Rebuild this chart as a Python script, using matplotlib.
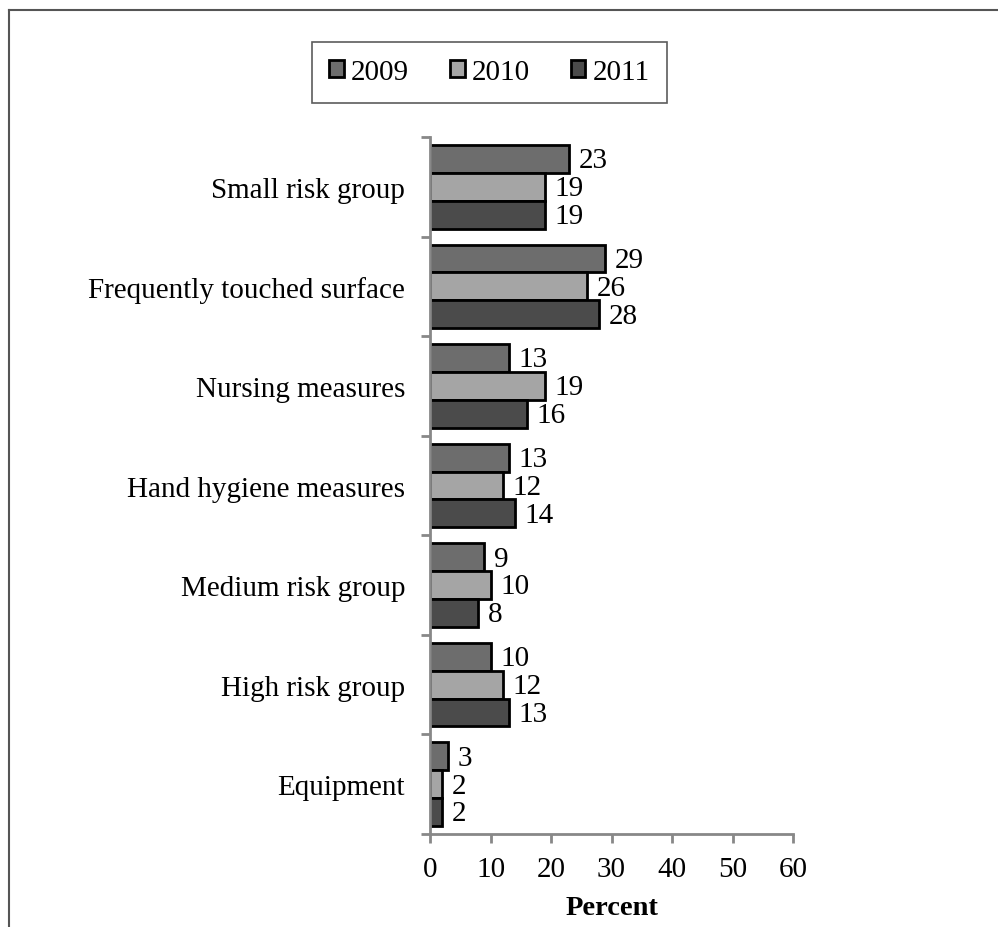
import matplotlib.pyplot as plt
import numpy as np
from matplotlib.lines import Line2D

plt.rcParams["font.family"] = ["Liberation Serif", "DejaVu Serif"]

categories = ["Small risk group", "Frequently touched surface", "Nursing measures",
              "Hand hygiene measures", "Medium risk group", "High risk group", "Equipment"]
years = ["2009", "2010", "2011"]
v2009 = [23, 29, 13, 13, 9, 10, 3]
v2010 = [19, 26, 19, 12, 10, 12, 2]
v2011 = [19, 28, 16, 14, 8, 13, 2]
colors = ["#6d6d6d", "#a5a5a5", "#4b4b4b"]
xticks = [0, 10, 20, 30, 40, 50, 60]

fig = plt.figure(figsize=(9.98, 9.28), dpi=100)
ax = fig.add_axes([0.4309, 0.1002, 0.3637, 0.7511])

n = len(categories)
centers = np.arange(n)[::-1].astype(float)
h = 0.28
offsets = [h, 0.0, -h]
for vals, off, col, yr in zip([v2009, v2010, v2011], offsets, colors, years):
    bars = ax.barh(centers + off, vals, height=h, color=col, edgecolor="black",
                   linewidth=2, label=yr)
    for b, v in zip(bars, vals):
        ax.annotate(str(v), (b.get_width(), b.get_y() + b.get_height() / 2),
                    xytext=(7, -1), textcoords="offset points",
                    va="center", ha="left", fontsize=21)

ax.set_xlim(0, 60)
ax.set_ylim(-0.5, n - 0.5)
ax.set_xticks(xticks)
ax.set_xticklabels([str(t) for t in xticks], fontsize=21)
ax.set_yticks(centers)
ax.set_yticklabels(categories, fontsize=21)
ax.set_yticks(np.arange(n + 1) - 0.5, minor=True)
ax.tick_params(axis="y", which="major", length=0, pad=18)
ax.tick_params(axis="y", which="minor", length=6.5, width=2, color="#888888", direction="out")
ax.tick_params(axis="x", length=6.5, width=2, color="#888888", direction="out", pad=9)
for s in ["top", "right"]:
    ax.spines[s].set_visible(False)
for s in ["left", "bottom"]:
    ax.spines[s].set_color("#888888")
    ax.spines[s].set_linewidth(2)
ax.set_xlabel("Percent", fontsize=20.5, fontweight="bold", labelpad=10)

leg = ax.legend(loc="center", bbox_to_anchor=(0.4905, 0.9213), bbox_transform=fig.transFigure,
                ncol=3, fontsize=21, frameon=True, fancybox=False, edgecolor="#333333",
                handlelength=0.5, handleheight=0.5, handletextpad=0.25, columnspacing=1.4,
                borderpad=0.6, borderaxespad=0)
leg.get_frame().set_linewidth(1.2)

# outer frame: only the left and top edges are visible in the original
fig.add_artist(Line2D([0.009, 0.009], [0.0, 0.988], transform=fig.transFigure,
                      color="#555555", linewidth=1.5))
fig.add_artist(Line2D([0.009, 1.0], [0.988, 0.988], transform=fig.transFigure,
                      color="#555555", linewidth=1.5))

fig.savefig("out.png", dpi=100)
